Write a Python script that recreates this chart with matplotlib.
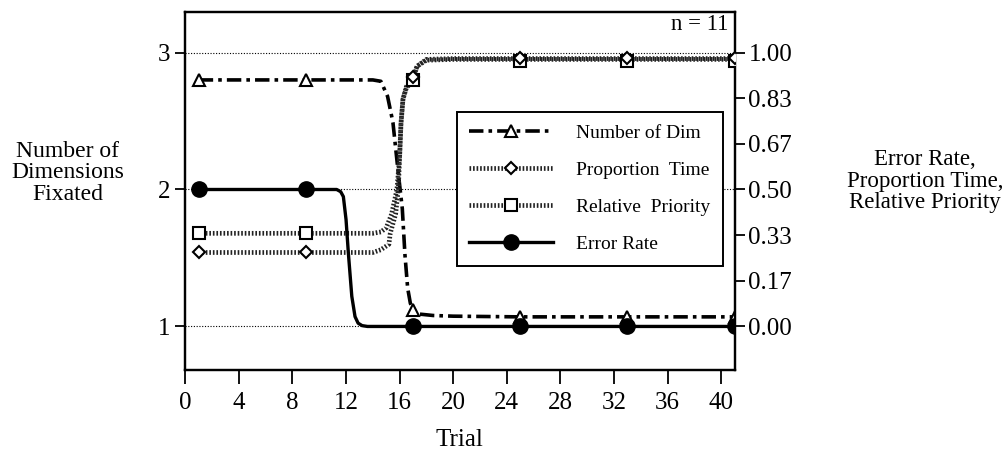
import numpy as np
import matplotlib
matplotlib.use("Agg")
import matplotlib.pyplot as plt
from matplotlib.lines import Line2D

plt.rcParams['font.family'] = ['Liberation Serif', 'DejaVu Serif']

# ---- data ----
marker_trials = [1, 9, 17, 25, 33, 41]

# number of dimensions fixated (left axis)
dim_marks = [2.80, 2.80, 1.12, 1.07, 1.07, 1.07]
dim_curve_x = [1, 9, 14.0, 14.6, 15.1, 15.5, 15.9, 16.2, 16.4, 16.6, 16.8, 17.0, 17.5, 18.5, 20, 25, 33, 41]
dim_curve_y = [2.80, 2.80, 2.80, 2.79, 2.68, 2.49, 2.12, 1.86, 1.52, 1.28, 1.17, 1.12, 1.09, 1.08, 1.075, 1.07, 1.07, 1.07]

# proportion time (right axis)
pt_marks = [0.27, 0.27, 0.91, 0.98, 0.98, 0.98]
pt_curve_x = [1, 9, 14.0, 14.6, 15.2, 15.3, 15.7, 15.9, 16.0, 16.1, 16.25, 16.5, 17.0, 17.3, 18.0, 20, 25, 33, 41]
pt_curve_y = [0.27, 0.27, 0.27, 0.28, 0.30, 0.34, 0.41, 0.50, 0.62, 0.74, 0.83, 0.875, 0.91, 0.95, 0.975, 0.978, 0.978, 0.978, 0.978]

# relative priority (right axis)
rp_marks = [0.34, 0.34, 0.90, 0.97, 0.97, 0.97]
rp_curve_x = [1, 9, 14.0, 14.6, 15.0, 15.4, 15.8, 16.0, 16.1, 16.25, 16.5, 17.0, 17.3, 18.0, 20, 25, 33, 41]
rp_curve_y = [0.34, 0.34, 0.34, 0.345, 0.36, 0.41, 0.50, 0.62, 0.74, 0.83, 0.87, 0.90, 0.95, 0.972, 0.975, 0.975, 0.975, 0.975]

# error rate (right axis)
err_marks = [0.50, 0.50, 0.0, 0.0, 0.0, 0.0]
err_curve_x = [1, 9, 11.3, 11.6, 11.8, 12.0, 12.17, 12.43, 12.67, 12.9, 13.2, 13.6, 17, 25, 33, 41]
err_curve_y = [0.50, 0.50, 0.50, 0.492, 0.474, 0.39, 0.27, 0.11, 0.036, 0.012, 0.003, 0.0, 0.0, 0.0, 0.0, 0.0]

x_ticks = [0, 4, 8, 12, 16, 20, 24, 28, 32, 36, 40]
left_ticks = [1, 2, 3]
right_ticks = [0, 1/6, 2/6, 3/6, 4/6, 5/6, 1]
right_ticklabels = ['0.00', '0.17', '0.33', '0.50', '0.67', '0.83', '1.00']

# ---- figure ----
fig = plt.figure(figsize=(10.06, 4.63), dpi=100)
ax = fig.add_axes([185.3 / 1006, 1 - 370 / 463, 549.2 / 1006, 358 / 463])
ax2 = ax.twinx()

ylo, yhi = 0.682, 3.296
ax.set_ylim(ylo, yhi)
ax2.set_ylim((ylo - 1) / 2, (yhi - 1) / 2)
ax.set_xlim(0, 41)

for g in left_ticks:
    ax.axhline(g, color='black', lw=0.8, ls=(0, (1, 1.5)), zorder=1)

dim_style = dict(color='black', lw=2.6, ls=(0, (4.0, 1.4, 1.0, 1.4)))
dot_style = dict(color='#222222', lw=3.4, ls=(0, (0.35, 0.4)))

ax.plot(dim_curve_x, dim_curve_y, **dim_style, zorder=3)
ax.plot(marker_trials, dim_marks, ls='none', marker='^', ms=9, mfc='white',
        mec='black', mew=1.5, zorder=4)

ax2.plot(pt_curve_x, pt_curve_y, **dot_style, zorder=3)
ax2.plot(rp_curve_x, rp_curve_y, **dot_style, zorder=3)
ax2.plot(err_curve_x, err_curve_y, color='black', lw=2.4, zorder=3)
ax2.plot(marker_trials, rp_marks, ls='none', marker='s', ms=9, mfc='white',
         mec='black', mew=1.5, zorder=4)
ax2.plot(marker_trials, pt_marks, ls='none', marker='D', ms=6.5, mfc='white',
         mec='black', mew=1.5, zorder=5)
ax2.plot(marker_trials, err_marks, ls='none', marker='o', ms=11, color='black', zorder=5)

# ticks
ax.set_xticks(x_ticks)
ax.set_yticks(left_ticks)
ax2.set_yticks(right_ticks)
ax2.set_yticklabels(right_ticklabels)
ax.tick_params(axis='both', direction='out', labelsize=18, width=1.3, length=7, pad=4)
ax.tick_params(axis='x', length=10, pad=6)
ax2.tick_params(axis='y', direction='out', labelsize=18, width=1.3, length=7, pad=3)
for a in (ax, ax2):
    for s in a.spines.values():
        s.set_linewidth(1.6)

# legend
handles = [
    Line2D([], [], marker='^', ms=9, mfc='white', mec='black', mew=1.5, **dim_style),
    Line2D([], [], marker='D', ms=6.5, mfc='white', mec='black', mew=1.5, **dot_style),
    Line2D([], [], marker='s', ms=9, mfc='white', mec='black', mew=1.5, **dot_style),
    Line2D([], [], marker='o', ms=11, color='black', lw=2.4),
]
labels = ['Number of Dim', 'Proportion  Time', 'Relative  Priority', 'Error Rate']
leg = ax2.legend(handles, labels, loc='upper left', bbox_to_anchor=(0.494, 0.7215),
                 borderaxespad=0, fontsize=14, handlelength=4.3, handletextpad=1.2,
                 labelspacing=1.0, borderpad=0.65, fancybox=False, framealpha=1,
                 edgecolor='black')
leg.get_frame().set_linewidth(1.4)

ax.text(0.988, 0.964, 'n = 11', transform=ax.transAxes, ha='right', va='center', fontsize=16.5)

fig.text(68 / 1006, 1 - 173 / 463, 'Number of\nDimensions\nFixated', ha='center',
         va='center', fontsize=17, linespacing=1.02)
fig.text(925 / 1006, 1 - 181 / 463, 'Error Rate,\nProportion Time,\nRelative Priority',
         ha='center', va='center', fontsize=16.5, linespacing=1.04)
fig.text(459 / 1006, 1 - 440 / 463, 'Trial', ha='center', va='center', fontsize=18)

fig.savefig('out.png', dpi=100)
